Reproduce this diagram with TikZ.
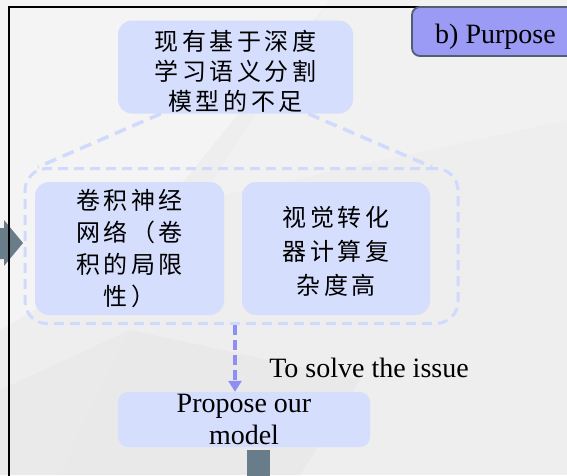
\documentclass[tikz,border=0pt]{standalone}
\usepackage{fontspec}
\setmainfont{Liberation Serif}
\newfontfamily\cjkfont[LetterSpace=15]{Noto Sans CJK SC}
\usetikzlibrary{calc,arrows.meta}

\definecolor{bgGray}{HTML}{EEEEEE}
\definecolor{facetLight}{HTML}{F4F4F4}
\definecolor{facetDark}{HTML}{E7E7E7}
\definecolor{boxBlue}{HTML}{D6DEFD}
\definecolor{dashBlue}{HTML}{D0DAFC}
\definecolor{flowBlue}{HTML}{8F8FF3}
\definecolor{tagFill}{HTML}{9B9BF5}
\definecolor{tagEdge}{HTML}{4E6070}
\definecolor{slate}{HTML}{687C89}

\tikzset{
  lightbox/.style={fill=boxBlue, rounded corners=14pt, inner sep=0pt},
  cjktext/.style={align=center, inner sep=0pt, font=\cjkfont\fontsize{24}{#1}\selectfont},
  cjktext/.default=32,
  groupbox/.style={draw=dashBlue, line width=3pt, dash pattern=on 10pt off 6pt,
    rounded corners=22pt, minimum width=433pt, minimum height=155pt},
  callout/.style={draw=dashBlue, line width=3.5pt, dash pattern=on 12pt off 7pt},
  flow/.style={draw=flowBlue, line width=3.5pt, dash pattern=on 10pt off 5pt,
    -{Triangle[length=11pt,width=13pt]}},
  latin/.style={font=\fontsize{28}{32}\selectfont, align=center, inner sep=0pt},
  tag/.style={fill=tagFill, draw=tagEdge, line width=1.8pt, rounded corners=8pt,
    minimum width=167pt, minimum height=49pt, inner sep=0pt,
    text height=23pt, text depth=0pt, font=\fontsize{28}{32}\selectfont},
}

\begin{document}
\begin{tikzpicture}[x=1pt,y=-1pt]
  % canvas
  \useasboundingbox (0,0) rectangle (567,475);
  \fill[bgGray] (0,0) rectangle (567,475);
  % faint low-poly facets of the backdrop
  \fill[facetLight] (0,0) -- (330,0) -- (120,260) -- (0,330) -- cycle;
  \fill[facetLight, opacity=0.6] (330,0) -- (567,0) -- (567,120) -- (200,200) -- cycle;
  \fill[facetDark, opacity=0.7] (60,475) -- (130,330) -- (360,380) -- (300,475) -- cycle;
  \fill[facetDark, opacity=0.5] (130,330) -- (0,390) -- (0,475) -- (60,475) -- cycle;

  % incoming arrow on the left edge
  \fill[slate] (-5,228) -- (4,228) -- (4,220) -- (23,243) -- (4,266) -- (4,259) -- (-5,259) -- cycle;

  % panel frame
  \draw[black, line width=1.6pt] (9,480) -- (9,7) -- (600,7);

  % panel tag
  \node[tag] (tag) at (495.5,31.5) {b) Purpose};

  % dashed group around the two shortcomings
  \node[groupbox] (grp) at (241.5,246) {};

  % problem statement
  \node[lightbox, minimum width=235pt, minimum height=93pt] (top) at (235.5,67) {};
  \node[cjktext=30] (topText) at (235.5,71.5) {现有基于深度\\学习语义分割\\模型的不足};

  % callout lines from the statement to the group
  \coordinate (cl) at (38,168);
  \coordinate (cr) at (432,168);
  \draw[callout] ($(top.south west)+(43,0)$) -- (grp.north west -| cl);
  \draw[callout] ($(top.south east)+(-45,0)$) -- (grp.north west -| cr);

  % the two shortcomings
  \node[lightbox, minimum width=189pt, minimum height=133pt] (cnn) at (129.5,248.5) {};
  \node[cjktext=32.3] (cnnText) at (cnn.center) {卷积神经\\网络（卷\\积的局限\\性）};
  \node[lightbox, minimum width=188pt, minimum height=133pt] (vit) at (336,248.5) {};
  \node[cjktext=34] (vitText) at (336,251) {视觉转化\\器计算复\\杂度高};

  % proposed model
  \node[lightbox, rounded corners=10pt, minimum width=252pt, minimum height=55pt] (prop) at (244,419.5) {};
  \node[latin] (propText) at (prop.center) {Propose our\\model};

  % flow from the group to the proposal
  \coordinate (ax) at (235,0);
  \draw[flow] (grp.south -| ax) -- (prop.north -| ax);
  \node[latin] (note) at (369,368) {To solve the issue};

  % outgoing connector below
  \node[fill=slate, minimum width=23pt, minimum height=30pt, inner sep=0pt] (bar) at (258.5,465) {};
\end{tikzpicture}
\end{document}
